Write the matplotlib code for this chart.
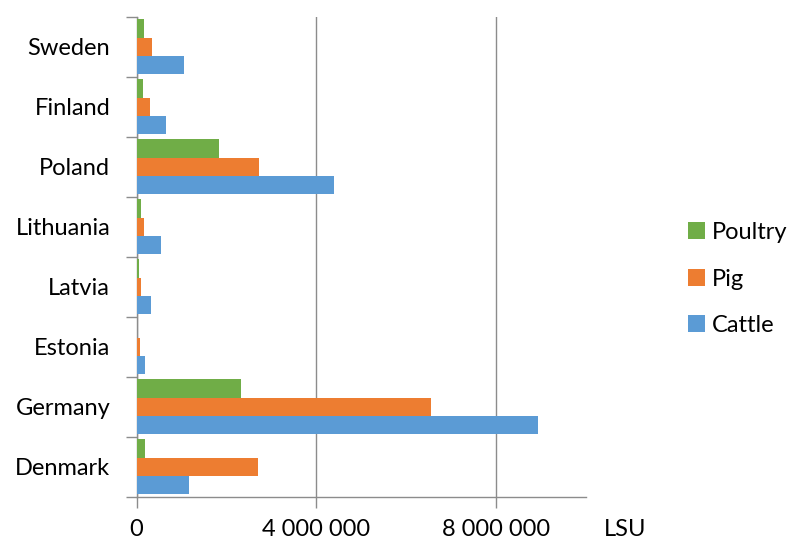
import numpy as np
import matplotlib.pyplot as plt
from matplotlib.ticker import FuncFormatter

# Livestock units by country and animal type
countries = ['Denmark', 'Germany', 'Estonia', 'Latvia', 'Lithuania', 'Poland', 'Finland', 'Sweden']
cattle = [1170000, 8940000, 190000, 320000, 540000, 4400000, 650000, 1050000]
pig = [2710000, 6560000, 80000, 90000, 170000, 2730000, 310000, 340000]
poultry = [180000, 2320000, 15000, 60000, 90000, 1830000, 150000, 170000]

plt.rcParams['font.family'] = ['Lato', 'DejaVu Sans']
plt.rcParams['font.size'] = 17

fig = plt.figure(figsize=(7.91, 5.41), dpi=100)
ax = fig.add_axes([0.1726, 0.0819, 0.5682, 0.8872])

y = np.arange(len(countries))
h = 0.305
ax.barh(y + h, poultry, height=h, color='#70AD47', label='Poultry', zorder=3)
ax.barh(y, pig, height=h, color='#ED7D31', label='Pig', zorder=3)
ax.barh(y - h, cattle, height=h, color='#5B9BD5', label='Cattle', zorder=3)

ax.set_xlim(0, 10000000)
ax.set_ylim(-0.5, len(countries) - 0.5)

gray = '#8C8C8C'
ax.set_xticks([0, 4000000, 8000000])
ax.xaxis.set_major_formatter(FuncFormatter(lambda v, p: f'{int(v):,}'.replace(',', ' ')))
ax.tick_params(axis='x', length=8, width=1, color=gray, pad=8)
ax.grid(axis='x', color=gray, linewidth=1, zorder=0)

ax.set_yticks(y)
ax.set_yticklabels(countries)
ax.set_yticks(np.arange(-0.5, len(countries)), minor=True)
ax.tick_params(axis='y', which='major', length=0, pad=19)
ax.tick_params(axis='y', which='minor', length=8, width=1, color=gray)

for s in ['top', 'right']:
    ax.spines[s].set_visible(False)
for s in ['left', 'bottom']:
    ax.spines[s].set_color(gray)
    ax.spines[s].set_linewidth(1)

fig.text(604 / 791, 1 - 530 / 541, 'LSU', va='center', ha='left')

fig.legend(loc='center left', bbox_to_anchor=(0.858, 1 - 279 / 541), frameon=False,
           handlelength=0.7, handleheight=0.7, handletextpad=0.3,
           labelspacing=1.08, borderaxespad=0)

fig.savefig('out.png', dpi=100)
